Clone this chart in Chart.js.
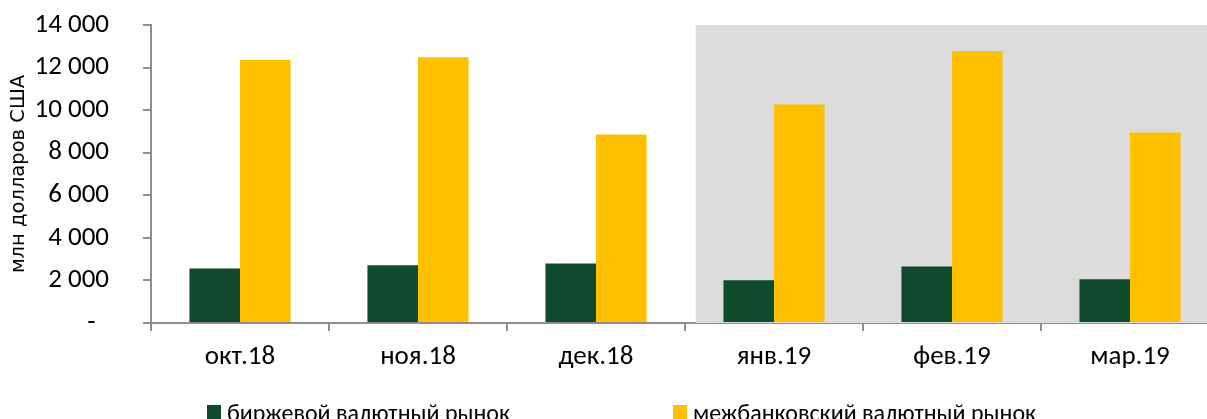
<!DOCTYPE html>
<html>
<head>
<meta charset="utf-8">
<script src="https://cdn.jsdelivr.net/npm/chart.js@4/dist/chart.umd.min.js"></script>
<style>
    body { margin: 0; background: #fff; overflow: hidden; }
    #wrap { position: absolute; left: 0; top: 0; width: 1240px; height: 430px; }
    .legend { position: absolute; top: 398px; font-family: Carlito, Lato, sans-serif; font-size: 24px; color: #000; white-space: nowrap; }
    .legend i { display: inline-block; width: 14px; height: 14px; margin-right: 6px; vertical-align: 2px; }
</style>
</head>
<body>
<div id="wrap">
    <canvas id="volumeChart" width="1240" height="430"></canvas>
    <div class="legend" style="left:207px"><i style="background:#0f4a2b"></i>биржевой валютный рынок</div>
    <div class="legend" style="left:673px"><i style="background:#ffc000"></i>межбанковский валютный рынок</div>
</div>
<script>
const months = ["окт.18", "ноя.18", "дек.18", "янв.19", "фев.19", "мар.19"];
const exchangeMarket = [2560, 2710, 2790, 2010, 2650, 2050];
const interbankMarket = [12350, 12490, 8860, 10270, 12780, 8950];
const yTicks = [0, 2000, 4000, 6000, 8000, 10000, 12000, 14000];
const shadedFrom = "янв.19";

const axisColor = "#8e8e8e";
const tickFont = { family: "Carlito, Lato, sans-serif", size: 27 };

// grey background behind the 2019 months
const shadePlugin = {
    id: "shade",
    beforeDatasetsDraw(chart) {
        const x = chart.scales.x;
        const area = chart.chartArea;
        const idx = months.indexOf(shadedFrom);
        const left = x.getPixelForValue(idx - 0.44);
        const ctx = chart.ctx;
        ctx.save();
        ctx.fillStyle = "#dcdcdc";
        ctx.fillRect(left, area.top, area.right - left, area.bottom - area.top);
        ctx.restore();
    }
};

function fmt(v) {
    if (v === 0) return "-\u2002";
    return v.toLocaleString("en-US").replace(/,/g, " ");
}

new Chart(document.getElementById("volumeChart"), {
    type: "bar",
    data: {
        labels: months,
        datasets: [
            { label: "биржевой валютный рынок", data: exchangeMarket, backgroundColor: "#0f4a2b" },
            { label: "межбанковский валютный рынок", data: interbankMarket, backgroundColor: "#ffc000" }
        ]
    },
    options: {
        responsive: false,
        animation: false,
        layout: { padding: { top: 25, right: 21, left: 0, bottom: 0 } },
        datasets: { bar: { categoryPercentage: 0.568, barPercentage: 1.0 } },
        plugins: { legend: { display: false }, tooltip: { enabled: false } },
        scales: {
            x: {
                offset: true,
                afterFit(scale) { scale.height = 107; },
                border: { color: axisColor, width: 2 },
                grid: { offset: true, drawOnChartArea: false, tickLength: 8, color: axisColor, lineWidth: 2 },
                ticks: { color: "#000", font: tickFont, padding: 10 }
            },
            y: {
                min: 0,
                max: 14000,
                afterFit(scale) {
                    scale.width = 151;
                    scale.paddingTop = 0;
                    scale.paddingBottom = 0;
                },
                afterBuildTicks(scale) { scale.ticks = yTicks.map(v => ({ value: v })); },
                border: { color: axisColor, width: 2 },
                grid: { drawOnChartArea: false, tickLength: 8, color: axisColor, lineWidth: 2 },
                ticks: { color: "#000", font: tickFont, padding: 34, callback: v => fmt(v) },
                title: {
                    display: true,
                    text: "млн долларов США",
                    color: "#000",
                    font: { family: "'DejaVu Sans', sans-serif", size: 19.5 },
                    padding: { top: 7, bottom: 0 }
                }
            }
        }
    },
    plugins: [shadePlugin]
});
</script>
</body>
</html>
